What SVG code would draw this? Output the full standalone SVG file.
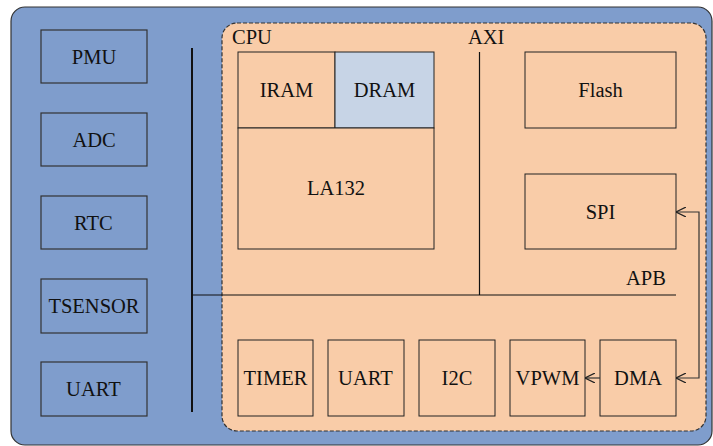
<svg xmlns="http://www.w3.org/2000/svg" width="713" height="446" viewBox="0 0 713 446">
<style>
.lb{fill:#7f9dcc;stroke:#333;stroke-width:1.2}
.ob{fill:#f9cca8;stroke:#222;stroke-width:1}
.bus{stroke:#111;fill:none}
.con{stroke:#333;stroke-width:1.2;fill:none}
</style>
<defs>
<marker id="ah" viewBox="0 0 10 10" refX="10" refY="5" markerWidth="10" markerHeight="10" markerUnits="userSpaceOnUse" orient="auto-start-reverse">
<path d="M0,0 L10,5 L0,10" fill="none" stroke="#222" stroke-width="1.2"/>
</marker>
</defs>
<rect x="11" y="7" width="701" height="438" rx="14" fill="#7f9dcc" stroke="#333" stroke-width="1.2"/>
<rect id="soc" x="222" y="23" width="484" height="408" rx="15" fill="#f9cca8" stroke="#333" stroke-width="1.2" stroke-dasharray="4,2"/>
<text x="232" y="44" font-family="Liberation Serif" font-size="20.5" fill="#111">CPU</text>
<text x="468" y="44" font-family="Liberation Serif" font-size="20.5" fill="#111">AXI</text>
<text x="626" y="285" font-family="Liberation Serif" font-size="20.5" fill="#111">APB</text>
<g id="PMU"><rect class="lb" x="41" y="30" width="106" height="53"/><text x="71.8" y="63.5" font-family="Liberation Serif" font-size="20.5" fill="#111">PMU</text></g>
<g id="ADC"><rect class="lb" x="41" y="113" width="106" height="53"/><text x="72.4" y="146.5" font-family="Liberation Serif" font-size="20.5" fill="#111">ADC</text></g>
<g id="RTC"><rect class="lb" x="41" y="196" width="106" height="53"/><text x="74.1" y="229.5" font-family="Liberation Serif" font-size="20.5" fill="#111">RTC</text></g>
<g id="TSENSOR"><rect class="lb" x="41" y="279" width="106" height="54"/><text x="48.4" y="313" font-family="Liberation Serif" font-size="20.5" fill="#111">TSENSOR</text></g>
<g id="UART1"><rect class="lb" x="41" y="362" width="106" height="54"/><text x="66.1" y="396" font-family="Liberation Serif" font-size="20.5" fill="#111">UART</text></g>
<g id="IRAM"><rect class="ob" x="238" y="52" width="97" height="76"/><text x="259.7" y="97" font-family="Liberation Serif" font-size="20.5" fill="#111">IRAM</text></g>
<g id="DRAM"><rect x="335" y="52" width="99" height="76" fill="#c7d4e6" stroke="#222" stroke-width="1"/><text x="353.8" y="97" font-family="Liberation Serif" font-size="20.5" fill="#111">DRAM</text></g>
<g id="LA132"><rect class="ob" x="238" y="128" width="196" height="121"/><text x="307" y="195" font-family="Liberation Serif" font-size="20.5" fill="#111">LA132</text></g>
<g id="Flash"><rect class="ob" x="525" y="52" width="151" height="76"/><text x="578.3" y="97" font-family="Liberation Serif" font-size="20.5" fill="#111">Flash</text></g>
<g id="SPI"><rect class="ob" x="525" y="174" width="151" height="75"/><text x="585.7" y="218.5" font-family="Liberation Serif" font-size="20.5" fill="#111">SPI</text></g>
<g id="TIMER"><rect class="ob" x="238" y="340" width="75" height="76"/><text x="243.6" y="385" font-family="Liberation Serif" font-size="20.5" fill="#111">TIMER</text></g>
<g id="UART2"><rect class="ob" x="328" y="340" width="76" height="76"/><text x="338.1" y="385" font-family="Liberation Serif" font-size="20.5" fill="#111">UART</text></g>
<g id="I2C"><rect class="ob" x="419" y="340" width="76" height="76"/><text x="441.6" y="385" font-family="Liberation Serif" font-size="20.5" fill="#111">I2C</text></g>
<g id="VPWM"><rect class="ob" x="510" y="340" width="75" height="76"/><text x="515.6" y="385" font-family="Liberation Serif" font-size="20.5" fill="#111">VPWM</text></g>
<g id="DMA"><rect class="ob" x="600" y="340" width="76" height="76"/><text x="614.1" y="385" font-family="Liberation Serif" font-size="20.5" fill="#111">DMA</text></g>
<g id="connectors">
<line class="bus" x1="192" y1="48" x2="192" y2="412" stroke-width="2"/>
<line class="bus" x1="192" y1="295" x2="676" y2="295" stroke-width="1.2"/>
<line class="bus" x1="479.5" y1="52" x2="479.5" y2="295" stroke-width="1.2"/>
<line class="con" x1="600" y1="378" x2="585" y2="378" marker-end="url(#ah)"/>
<path class="con" d="M676,212 H699 V378 H676" marker-start="url(#ah)" marker-end="url(#ah)"/>
</g>
</svg>
